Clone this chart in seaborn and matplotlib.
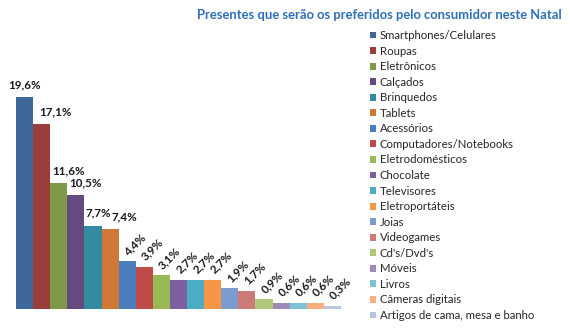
import matplotlib
matplotlib.use("Agg")
import matplotlib.pyplot as plt
import seaborn as sns
import pandas as pd

categories = [
    "Smartphones/Celulares", "Roupas", "Eletrônicos", "Calçados", "Brinquedos",
    "Tablets", "Acessórios", "Computadores/Notebooks", "Eletrodomésticos",
    "Chocolate", "Televisores", "Eletroportáteis", "Joias", "Videogames",
    "Cd's/Dvd's", "Móveis", "Livros", "Câmeras digitais",
    "Artigos de cama, mesa e banho",
]
values = [19.6, 17.1, 11.6, 10.5, 7.7, 7.4, 4.4, 3.9, 3.1, 2.7, 2.7, 2.7,
          1.9, 1.7, 0.9, 0.6, 0.6, 0.6, 0.3]
labels = [f"{v:.1f}%".replace(".", ",") for v in values]
title = "Presentes que serão os preferidos pelo consumidor neste Natal"

colors = [
    "#40679A", "#9A3E3C", "#7E9A48", "#644A7E", "#348A9E", "#D07836",
    "#4A7DBB", "#BE4B48", "#98B954", "#7D60A0", "#4BACC6", "#F79646",
    "#7E9BCF", "#CD7A78", "#AFC97A", "#9E8BBA", "#7CC3D6", "#F9B07E",
    "#B9C4E0",
]

sns.set_theme(style="white")
plt.rcParams["font.family"] = ["Lato", "DejaVu Sans"]

df = pd.DataFrame({"categoria": categories, "valor": values})

fig = plt.figure(figsize=(5.7, 3.3), dpi=100)
ax = fig.add_axes([16 / 570, 21 / 330, 325 / 570, 289 / 330])

sns.barplot(data=df, x="categoria", y="valor", hue="categoria",
            order=categories, hue_order=categories, palette=colors,
            saturation=1, width=1.0, legend=True, ax=ax, linewidth=0)

ax.set_xlim(-0.5, len(categories) - 0.5)
ax.set_ylim(0, 289 / 10.82)
ax.set_axis_off()

# value labels: the tallest six sit flat above their bars, the rest are tilted
flat_dx = [0, 14, 10, 10, 5, 14]
for i, (v, lab) in enumerate(zip(values, labels)):
    if i < len(flat_dx):
        ax.annotate(lab, (i, v), xytext=(flat_dx[i] * 0.72, 5),
                    textcoords="offset points", ha="center", va="bottom",
                    fontsize=8.4, fontweight="bold", color="#1a1a1a")
    else:
        ax.annotate(lab, (i, v), xytext=(2, 3), textcoords="offset points",
                    ha="left", va="bottom", rotation=45,
                    rotation_mode="anchor", fontsize=8.4,
                    fontweight="bold", color="#1a1a1a")

handles, hlabels = ax.get_legend_handles_labels()
if ax.get_legend() is not None:
    ax.get_legend().remove()
fig.legend(handles, hlabels, loc="upper left",
           bbox_to_anchor=(370 / 570, 1 - 30 / 330),
           frameon=False, fontsize=8.2, handlelength=0.55,
           handleheight=0.55, handletextpad=0.3, labelspacing=0.40,
           borderaxespad=0, borderpad=0)

fig.text(562 / 570, 1 - 15 / 330, title, ha="right", va="center",
         fontsize=9.4, fontweight="bold", color="#2E6FB7")

fig.savefig("out.png", dpi=100, facecolor="white")
